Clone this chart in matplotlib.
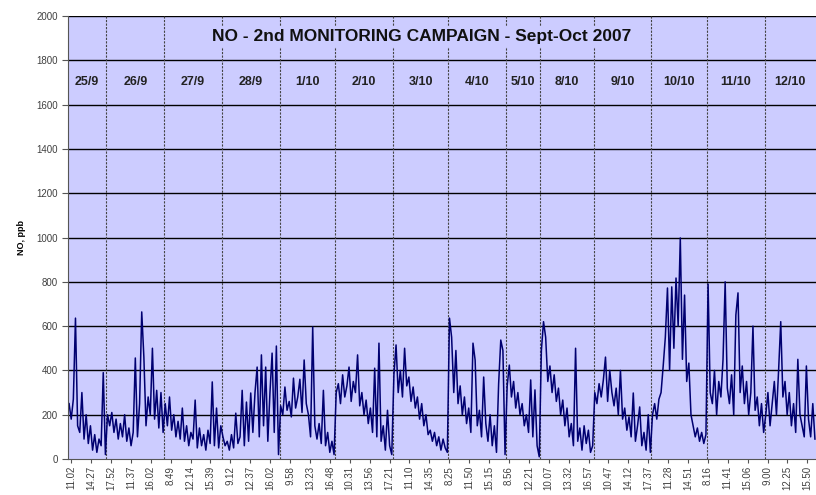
import numpy as np
import matplotlib
matplotlib.use("Agg")
import matplotlib.pyplot as plt

plt.rcParams['font.family'] = ['Liberation Sans', 'DejaVu Sans']

# NO readings (ppb) per monitoring day
day_names = ["25/9", "26/9", "27/9", "28/9", "1/10", "2/10", "3/10",
             "4/10", "5/10", "8/10", "9/10", "10/10", "11/10", "12/10"]

d_25_9 = [250, 180, 270, 636, 150, 120, 300, 90, 200, 70, 150, 40, 110, 30, 90, 60, 390, 20]
d_26_9 = [200, 150, 210, 120, 180, 90, 160, 100, 200, 80, 140, 60, 120, 456, 100, 250,
          664, 460, 150, 280, 200, 500, 180, 310, 140, 300, 120]
d_27_9 = [250, 150, 280, 130, 200, 100, 170, 90, 230, 80, 150, 60, 120, 90, 266, 50,
          140, 60, 110, 40, 130, 70, 348, 60, 230, 50, 150]
d_28_9 = [100, 60, 80, 40, 110, 50, 207, 70, 100, 310, 60, 257, 80, 298, 120, 300,
          415, 100, 470, 150, 415, 80, 300, 478, 120, 510, 20]
d_1_10 = [240, 200, 325, 220, 260, 190, 365, 230, 280, 360, 210, 447, 250, 200, 100,
          596, 150, 90, 160, 70, 310, 60, 120, 30, 80, 20]
d_2_10 = [300, 340, 250, 380, 280, 330, 415, 260, 350, 300, 470, 240, 300, 200, 266,
          160, 230, 120, 410, 100, 523, 80, 150, 40, 220, 60, 20]
d_3_10 = [380, 515, 300, 400, 280, 500, 330, 370, 260, 325, 230, 280, 180, 250, 150,
          200, 110, 130, 80, 120, 60, 100, 40, 90, 50, 30]
d_4_10 = [636, 550, 300, 490, 250, 330, 200, 280, 160, 230, 120, 523, 447, 150, 220,
          100, 370, 160, 80, 200, 60, 150, 30, 340, 537, 490, 20]
d_5_10 = [330, 424, 280, 350, 230, 300, 200, 250, 150, 200, 120, 357, 100, 312, 60, 10]
d_8_10 = [490, 620, 550, 350, 420, 300, 380, 260, 320, 200, 266, 150, 230, 100, 160,
          60, 500, 80, 140, 40, 150, 70, 130, 30, 60]
d_9_10 = [300, 250, 340, 280, 357, 460, 260, 400, 300, 240, 320, 200, 400, 180, 230,
          130, 190, 100, 298, 80, 150, 235, 60, 120, 40, 200, 30]
d_10_10 = [200, 250, 180, 270, 300, 420, 550, 772, 400, 777, 500, 817, 600, 998, 450,
           740, 350, 433, 200, 150, 100, 140, 80, 120, 70, 110]
d_11_10 = [790, 300, 250, 400, 200, 350, 280, 450, 800, 320, 250, 380, 200, 650, 750,
           300, 420, 250, 350, 200, 300, 600, 220, 280, 150, 250, 120]
d_12_10 = [200, 300, 150, 250, 350, 200, 400, 620, 280, 350, 200, 300, 150, 250, 120,
           450, 200, 150, 100, 420, 180, 100, 250, 90]

days = [d_25_9, d_26_9, d_27_9, d_28_9, d_1_10, d_2_10, d_3_10,
        d_4_10, d_5_10, d_8_10, d_9_10, d_10_10, d_11_10, d_12_10]

time_labels = ["11.02", "14.27", "17.52", "11.37", "16.02", "8.49", "12.14", "15.39",
               "9.12", "12.37", "16.02", "9.58", "13.23", "16.48", "10.31", "13.56",
               "17.21", "11.10", "14.35", "8.25", "11.50", "15.15", "8.56", "12.21",
               "10.07", "13.32", "16.57", "10.47", "14.12", "17.37", "11.28", "14.51",
               "8.16", "11.41", "15.06", "9.00", "12.25", "15.50"]

values = np.concatenate(days)
idx = np.arange(len(values))
bounds = np.cumsum([0] + [len(d) for d in days])

fig = plt.figure(figsize=(8.16, 4.95), dpi=100)
ax = fig.add_axes([68 / 816, 36 / 495, 748 / 816, 443 / 495])
ax.set_facecolor("#CCCCFF")

ax.set_xlim(-0.5, len(values) - 0.5)
ax.set_ylim(0, 2000)
ax.set_yticks(np.arange(0, 2001, 200))
for y in np.arange(200, 2001, 200):
    ax.axhline(y, color="black", lw=1.0, zorder=1)

# day separators
for b in bounds[1:-1]:
    ax.axvline(b - 0.5, color="#444444", lw=0.8, ls=(0, (2, 1.2)), zorder=1)

ax.plot(idx, values, color="#000070", lw=1.1, zorder=2)

# day names
for name, a, b in zip(day_names, bounds[:-1], bounds[1:]):
    ax.text((a + b - 1) / 2, 1700, name, ha="center", va="center",
            fontsize=9, fontweight="bold", color="#222222", zorder=4)

ax.text(0.473, 0.953, "NO - 2nd MONITORING CAMPAIGN - Sept-Oct 2007",
        transform=ax.transAxes, ha="center", va="center", fontsize=12.5,
        fontweight="bold", color="#111111", zorder=4,
        bbox=dict(facecolor="#CCCCFF", edgecolor="none", pad=2))

step = 9.31
ax.set_xticks(1 + step * np.arange(len(time_labels)))
ax.set_xticklabels(time_labels, rotation=90, fontsize=7, color="#404040")
ax.tick_params(axis="y", labelsize=7, labelcolor="#404040", length=4, color="#555555")
ax.tick_params(axis="x", length=3, color="#555555", pad=2)

ax.set_ylabel("NO, ppb", fontsize=6.5, fontweight="bold", labelpad=7)

for s in ["top", "right"]:
    ax.spines[s].set_visible(False)
ax.spines["left"].set_color("#555555")
ax.spines["bottom"].set_color("#555555")

fig.savefig("out.png", dpi=100)
